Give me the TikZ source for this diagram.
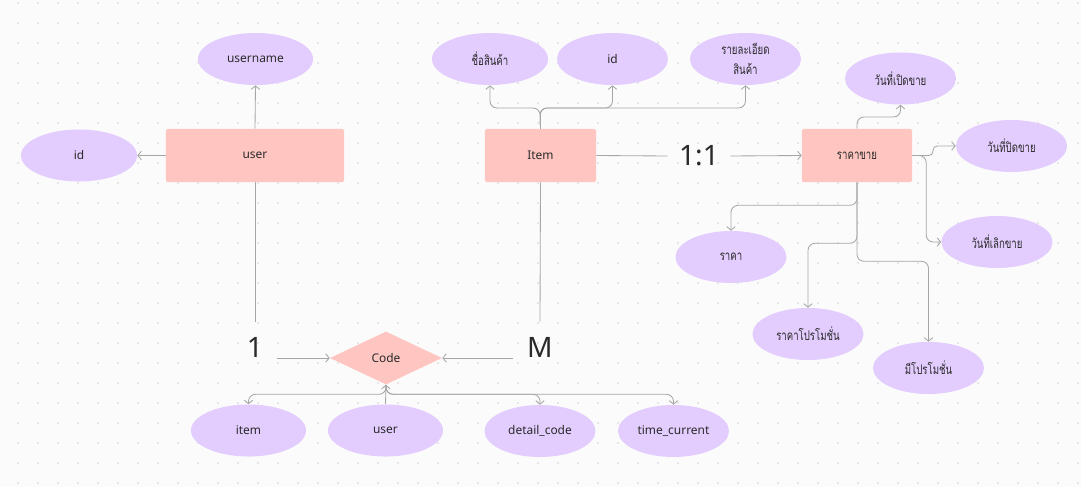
\documentclass[tikz,border=0pt]{standalone}
\usepackage{fontspec}
\setmainfont{Noto Sans}
\newfontfamily\thaifont[Script=Thai, FakeStretch=0.72]{Loma}
\usetikzlibrary{positioning, arrows.meta, shapes.geometric, calc}

\definecolor{entityfill}{HTML}{FFC6C1}
\definecolor{attrfill}{HTML}{E3CCFE}
\definecolor{linkgrey}{HTML}{A6A6A6}
\definecolor{inkdark}{HTML}{2A2A2A}
\definecolor{paper}{HTML}{FBFBFB}
\definecolor{griddot}{HTML}{D2D2D2}

\tikzset{
  entity/.style={rectangle, fill=entityfill, rounded corners=1pt, minimum width=2.75cm, minimum height=1.325cm, text=inkdark, font=\fontsize{8.5}{10}\selectfont},
  attr/.style={ellipse, fill=attrfill, minimum width=2.775cm, minimum height=1.3cm, inner sep=0pt, align=center, text=inkdark, font=\fontsize{8.5}{10}\selectfont},
  relation/.style={diamond, fill=entityfill, minimum width=2.8cm, minimum height=1.325cm, inner sep=0pt, text=inkdark, font=\fontsize{8.5}{10}\selectfont},
  thai/.style={font=\thaifont\fontsize{9.5}{12}\selectfont},
  card/.style={inner sep=0pt, minimum height=1.25cm, text=inkdark, font=\fontsize{20}{24}\selectfont},
  plain/.style={draw=linkgrey, line width=0.6pt},
  link/.style={plain, rounded corners=5pt, -{Straight Barb[length=2.5pt,width=6pt]}}
}

\begin{document}
\begin{tikzpicture}[x=0.025cm, y=-0.025cm]
  \useasboundingbox (0,0) rectangle (1081,487);
  % dotted canvas
  \fill[paper] (0,0) rectangle (1081,487);
  \foreach \i in {0,...,53}
    \foreach \j in {0,...,24}
      \fill[griddot] (18+20*\i, 3+20*\j) circle (0.55pt);

  % user entity
  \node (user) [entity, minimum width=4.45cm] at (255,155.5) {user};
  \node (uname) [attr, minimum width=2.875cm] at (255.5,59) {username};
  \node (uid) [attr, minimum width=2.9cm] at (79,155.5) {id};

  % item entity
  \node (item) [entity, minimum width=2.775cm] at (540.5,155.5) {Item};
  \node (pname) [attr, thai, minimum width=2.9cm] at (490,59) {ชื่อสินค้า};
  \node (pid) [attr] at (612.5,59) {id};
  \node (pdetail) [attr, thai, font=\thaifont\fontsize{9.5}{14}\selectfont] at (745.5,59) {รายละเอียด\\สินค้า};

  % sale price entity
  \node (sale) [entity, thai] at (857,155.5) {ราคาขาย};
  \node (open) [attr, thai] at (900.5,78.5) {วันที่เปิดขาย};
  \node (close) [attr, thai] at (1011.5,146) {วันที่ปิดขาย};
  \node (stop) [attr, thai] at (997,242) {วันที่เลิกขาย};
  \node (price) [attr, thai] at (731,257) {ราคา};
  \node (promoprice) [attr, thai] at (808,334) {ราคาโปรโมชั่น};
  \node (haspromo) [attr, thai] at (928.5,368) {มีโปรโมชั่น};

  % code relation
  \node (code) [relation] at (386,358) {Code};
  \node (citem) [attr, minimum width=2.875cm] at (248.5,430.5) {item};
  \node (cuser) [attr, minimum width=2.875cm] at (385.5,430.5) {user};
  \node (cdetail) [attr] at (540,431) {detail\_code};
  \node (ctime) [attr] at (673.5,431) {time\_current};

  % cardinalities
  \node (one) [card, minimum width=1.1cm] at (255,347) {1};
  \node (many) [card, minimum width=1.35cm] at (540,347) {M};
  \node (ratio) [card, minimum width=1.55cm] at (699,156) {1:1};

  % user links
  \draw[link] (user.north) -- (uname.south);
  \draw[link] (user.west) -- (uid.east);
  \draw[plain] (user.south) -- (one.north);
  \draw[link] (one.east |- code.west) -- (code.west);

  % item links
  \coordinate (itemfork) at (540,108);
  \draw[link] (item.north) -- (itemfork) -| (pname.south);
  \draw[link] (item.north) -- (itemfork) -| (pid.south);
  \draw[link] (item.north) -- (itemfork) -| (pdetail.south);
  \draw[plain] (item.south) -- (many.north);
  \draw[link] (many.west |- code.east) -- (code.east);
  \draw[plain] (item.east) -- (ratio.west);
  \draw[link] (ratio.east) -- (sale.west);

  % sale links
  \draw[link] (sale.north) -- (857,117) -| (open.south);
  \draw[link, rounded corners=3pt] (sale.east) -- (933,155.5) |- (close.west);
  \draw[link] (sale.east) -| ($(stop.west)+(-15,0)$) -- (stop.west);
  \draw[link] (sale.south) -- ++(0,23) -| (price.north);
  \draw[link] (sale.south) -- ++(0,61) -| (promoprice.north);
  \draw[link] (sale.south) -- ++(0,79) -| (haspromo.north);

  % code links
  \draw[link] (code.south) -- ++(0,9.5) -| (citem.north);
  \draw[link] (cuser.north) -- (code.south);
  \draw[link] (code.south) -- ++(0,9.5) -| (cdetail.north);
  \draw[link] (code.south) -- ++(0,9.5) -| (ctime.north);
\end{tikzpicture}
\end{document}
